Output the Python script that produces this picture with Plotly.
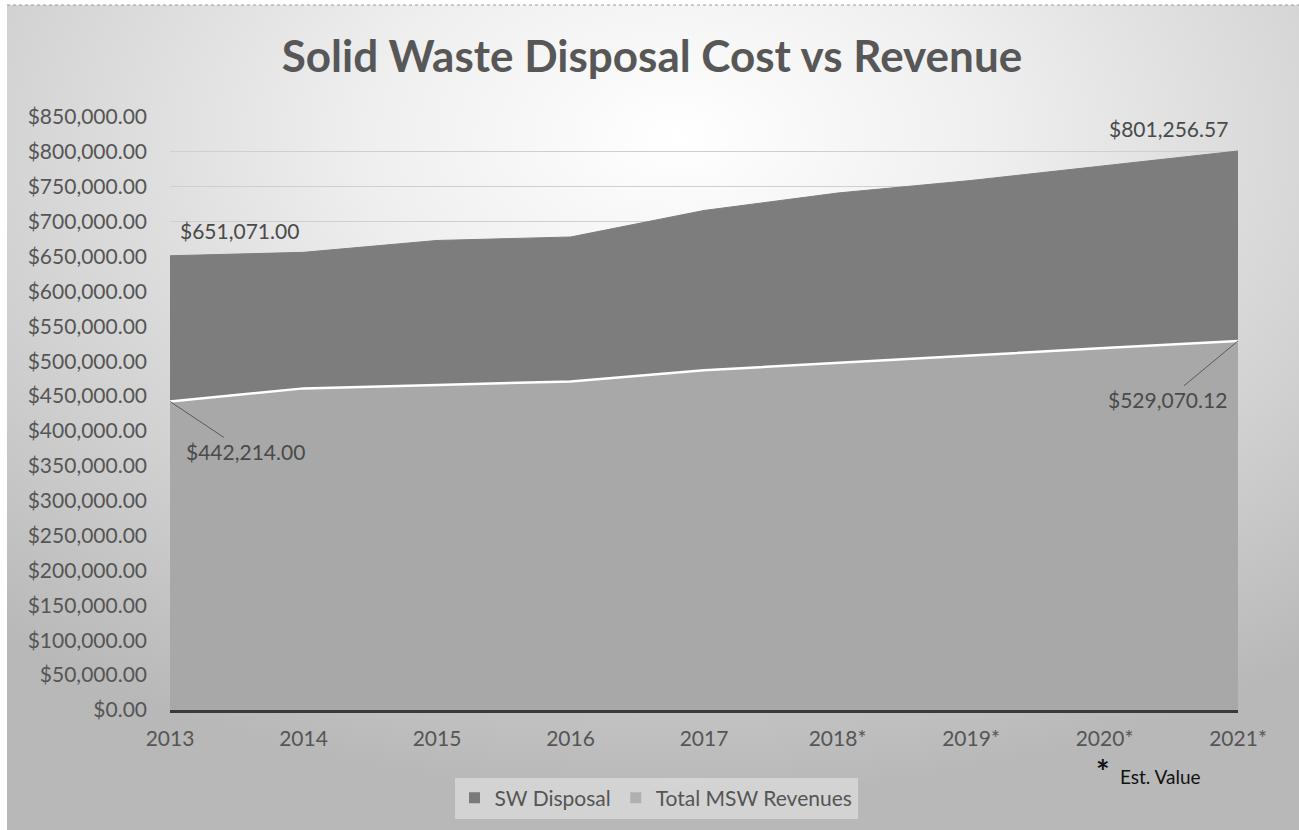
import base64
import plotly.graph_objects as go

# Years on the category axis (asterisk marks estimated values)
years = ["2013", "2014", "2015", "2016", "2017", "2018*", "2019*", "2020*", "2021*"]

# Annual solid-waste disposal cost
sw_disposal = [651071.00, 656000, 673000, 678000, 716000, 741000, 759000, 780000, 801256.57]

# Annual municipal solid waste revenues
msw_revenues = [442214.00, 461000, 466000, 471000, 487000, 497000, 508000, 519000, 529070.12]

W, H = 1299, 830
L, R, T, B = 170, 61, 117, 120
plot_w = W - L - R
plot_h = H - T - B

# Chart panel sits slightly inset from the page's top-left corner
PANEL_X, PANEL_Y = 7, 5

FONT = "Lato"
TXT = "#555555"

# Soft radial backdrop for the chart panel
svg = (
    "<svg xmlns='http://www.w3.org/2000/svg' width='1292' height='825'>"
    "<defs><radialGradient id='g' cx='0.52' cy='0.16' r='0.8'>"
    "<stop offset='0' stop-color='#ffffff'/>"
    "<stop offset='0.3' stop-color='#efefef'/>"
    "<stop offset='0.7' stop-color='#d0d0d0'/>"
    "<stop offset='1' stop-color='#b8b8b8'/>"
    "</radialGradient></defs>"
    "<rect width='1292' height='825' fill='url(#g)'/></svg>"
)
bg_src = "data:image/svg+xml;base64," + base64.b64encode(svg.encode()).decode()

fig = go.Figure()

fig.add_trace(go.Scatter(
    x=years, y=sw_disposal, mode="lines", fill="tozeroy",
    fillcolor="#7d7d7d", line=dict(color="#7d7d7d", width=1),
    name="SW Disposal", showlegend=False, hoverinfo="skip",
))
fig.add_trace(go.Scatter(
    x=years, y=msw_revenues, mode="lines", fill="tozeroy",
    fillcolor="#a8a8a8", line=dict(color="#ffffff", width=2.5),
    name="Total MSW Revenues", showlegend=False, hoverinfo="skip",
))

# Legend entries drawn as square swatches
for name, col in [("SW Disposal", "#7a7a7a"), ("Total MSW Revenues", "#b0b0b0")]:
    fig.add_trace(go.Scatter(
        x=[None], y=[None], mode="markers", name=name,
        marker=dict(symbol="square", size=11, color=col),
    ))

label_font = dict(family=FONT, size=21, color="#4a4a4a")

def money(v):
    return "${:,.2f}".format(v)

def px_x(p):
    return (p - L) / plot_w

def px_y(p):
    return (H - B - p) / plot_h

first, last = 0, len(years) - 1

annotations = [
    dict(x=first, y=sw_disposal[first], text=money(sw_disposal[first]), showarrow=False,
         xanchor="left", yanchor="middle", xshift=8, yshift=25, font=label_font),
    dict(x=last, y=sw_disposal[last], text=money(sw_disposal[last]), showarrow=False,
         xanchor="right", yanchor="middle", xshift=-8, yshift=23, font=label_font),
    dict(x=first, y=msw_revenues[first], text=money(msw_revenues[first]), showarrow=True,
         arrowhead=0, arrowwidth=1, arrowcolor="#5a5a5a", ax=75, ay=50, font=label_font),
    dict(x=last, y=msw_revenues[last], text=money(msw_revenues[last]), showarrow=True,
         arrowhead=0, arrowwidth=1, arrowcolor="#5a5a5a", ax=-71, ay=59, font=label_font),
    dict(xref="paper", yref="paper", x=px_x(1103), y=px_y(771),
         text="<b>*</b>", showarrow=False, xanchor="center", yanchor="middle",
         font=dict(family=FONT, size=32, color="#111111")),
    dict(xref="paper", yref="paper", x=px_x(1160), y=px_y(776),
         text="Est. Value", showarrow=False, xanchor="center", yanchor="middle",
         font=dict(family=FONT, size=19, color="#111111")),
]

fig.update_layout(
    width=W, height=H,
    margin=dict(l=L, r=R, t=T, b=B),
    paper_bgcolor="#ffffff",
    plot_bgcolor="rgba(0,0,0,0)",
    images=[dict(source=bg_src, xref="paper", yref="paper",
                 x=px_x(PANEL_X), y=px_y(PANEL_Y),
                 sizex=(W - PANEL_X) / plot_w, sizey=(H - PANEL_Y) / plot_h,
                 xanchor="left", yanchor="top", sizing="stretch", layer="below")],
    shapes=[dict(type="line", xref="paper", yref="paper",
                 x0=px_x(PANEL_X), x1=px_x(W), y0=px_y(PANEL_Y), y1=px_y(PANEL_Y),
                 line=dict(color="#9a9a9a", width=1, dash="dot"))],
    title=dict(text="<b>Solid Waste Disposal Cost vs Revenue</b>",
               x=652 / W, xanchor="center", y=1 - 57 / H, yanchor="middle",
               font=dict(family=FONT, size=44, color="#575757")),
    font=dict(family=FONT, color=TXT),
    xaxis=dict(type="category", range=[first, last], showgrid=False,
               showline=True, linecolor="#3a3a3a", linewidth=2.5,
               ticks="", tickfont=dict(family=FONT, size=21, color=TXT),
               ticklabelstandoff=8),
    yaxis=dict(range=[0, 850000], dtick=50000, tickformat="$,.2f",
               showgrid=True, gridcolor="#cfcfcf", gridwidth=1, zeroline=False,
               ticks="", tickfont=dict(family=FONT, size=21, color=TXT),
               ticklabelstandoff=22),
    legend=dict(orientation="h", x=px_x(656),
                xanchor="center", y=px_y(798), yanchor="middle",
                bgcolor="rgba(234,234,234,0.55)", borderwidth=0,
                font=dict(family=FONT, size=21, color=TXT),
                itemwidth=30, tracegroupgap=0),
    annotations=annotations,
    showlegend=True,
)

fig.write_html("out.html")
